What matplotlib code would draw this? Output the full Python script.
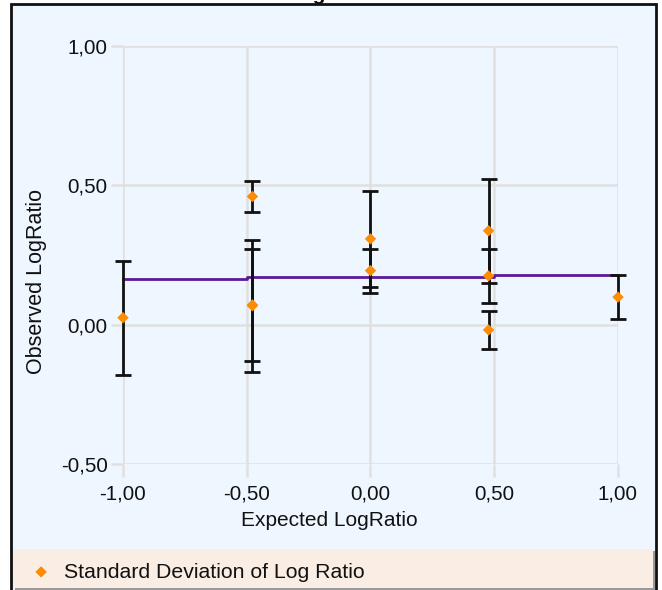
import matplotlib
matplotlib.use("Agg")
import matplotlib.pyplot as plt
from matplotlib.patches import Rectangle

plt.rcParams['font.family'] = ['Liberation Sans', 'DejaVu Sans']

# ---- data ----
expected = [-1.0, -0.477, -0.477, -0.477, 0.0, 0.0, 0.477, 0.477, 0.477, 1.0]
observed = [0.025, 0.460, 0.068, 0.071, 0.308, 0.194, 0.337, 0.175, -0.019, 0.099]
std_dev = [0.204, 0.057, 0.237, 0.201, 0.173, 0.079, 0.187, 0.097, 0.068, 0.079]
fit_x = [-1.0, -0.5, 0.5, 1.0]
fit_y = [0.165, 0.172, 0.178, 0.178]
x_ticks = [-1.0, -0.5, 0.0, 0.5, 1.0]
y_ticks = [-0.5, 0.0, 0.5, 1.0]
title = "LogRatio"
x_label = "Expected LogRatio"
y_label = "Observed LogRatio"
legend_label = "Standard Deviation of Log Ratio"

W, H = 662, 590
fig = plt.figure(figsize=(W / 100, H / 100), dpi=100, facecolor='white')


def fx(px):
    return px / W


def fy(py):
    return 1 - py / H


# outer frame and panel background
fig.patches.append(Rectangle((fx(11), fy(600)), fx(656) - fx(11), fy(4) - fy(600),
                             transform=fig.transFigure, facecolor='#eef6ff',
                             edgecolor='#111111', linewidth=2.0, zorder=-3))
# legend strip shadow + strip
fig.patches.append(Rectangle((fx(15), fy(590)), fx(655) - fx(15), fy(551) - fy(590),
                             transform=fig.transFigure, facecolor='#9a9a9a',
                             edgecolor='none', zorder=-2))
fig.patches.append(Rectangle((fx(13), fy(588)), fx(653) - fx(13), fy(549) - fy(588),
                             transform=fig.transFigure, facecolor='#faeee4',
                             edgecolor='none', zorder=-1))

ax = fig.add_axes([fx(123), fy(464), fx(618) - fx(123), fy(46) - fy(464)])
ax.set_facecolor('none')
for s in ax.spines.values():
    s.set_visible(False)

ax.set_xlim(-1.0, 1.0)
ax.set_ylim(-0.5, 1.0)
ax.set_xticks(x_ticks)
ax.set_yticks(y_ticks)
fmt = lambda v: f"{v:.2f}".replace('.', ',')
ax.set_xticklabels([fmt(v) for v in x_ticks])
ax.set_yticklabels([fmt(v) for v in y_ticks])
ax.grid(True, color='#e0e0e0', linewidth=1.8, zorder=0)
ax.tick_params(axis='both', colors='#e0e0e0', length=9, width=1.8,
               labelcolor='#111111', labelsize=14.8)
ax.tick_params(axis='x', pad=6)
ax.tick_params(axis='y', pad=2)
ax.set_axisbelow(True)

# axis titles (centred on the panel, as in the reference)
fig.text(fx(329), fy(521), x_label, ha='center', va='center', fontsize=15,
         color='#111111')
fig.text(fx(37), fy(282), y_label, ha='center', va='center', fontsize=15.5,
         color='#111111', rotation=90)

# fit line
ax.plot(fit_x, fit_y, drawstyle='steps-post', color='#5b1a96', linewidth=2.0,
        zorder=3, clip_on=False)

# error bars
ax.errorbar(expected, observed, yerr=std_dev, fmt='none', ecolor='#111111',
            elinewidth=2.0, capsize=6, capthick=2.0, zorder=4, clip_on=False)
pts = ax.scatter(expected, observed, marker='D', s=34, color='#ff8c00',
                 edgecolors='none', zorder=5, clip_on=False, label=legend_label)

# legend
leg = fig.legend(handles=[pts], labels=[legend_label], loc='center left',
                 bbox_to_anchor=(fx(22), fy(572)), frameon=False, fontsize=15.3,
                 handletextpad=0.6, borderaxespad=0, handlelength=1.0,
                 scatterpoints=1)
for t in leg.get_texts():
    t.set_color('#111111')

# title (mostly cut off at top, as in the reference)
fig.text(0.503, fy(0.0), title, ha='center', va='baseline', fontsize=15,
         fontweight='bold', color='#111111')

fig.savefig('out.png', dpi=100, facecolor='white')
